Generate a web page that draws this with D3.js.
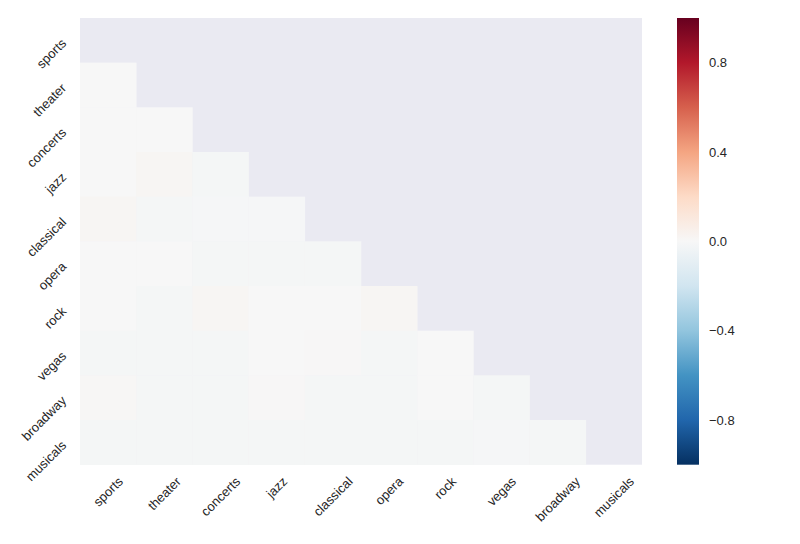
<!DOCTYPE html>
<html><head><meta charset="utf-8">
<script src="https://cdn.jsdelivr.net/npm/d3@7"></script>
<style>
body{margin:0;background:#fff}
text{font-family:"Liberation Sans",Arial,sans-serif;fill:#262626}
</style>
</head><body>
<svg id="chart" width="800" height="544"></svg>
<script>
// ---- data ----
const categories = ["sports","theater","concerts","jazz","classical","opera","rock","vegas","broadway","musicals"];
// lower triangle of the correlation matrix (row i holds columns 0..i-1); upper triangle + diagonal masked
const lowerTriangle = [
  [],
  [0.00],
  [0.00, 0.00],
  [0.00, 0.015, -0.015],
  [0.015, -0.015, -0.008, -0.008],
  [0.00, 0.00, -0.015, -0.015, -0.015],
  [0.00, -0.015, 0.015, 0.00, 0.00, 0.015],
  [-0.015, -0.015, -0.015, 0.00, 0.004, -0.015, 0.00],
  [0.008, -0.015, -0.015, 0.004, -0.015, -0.015, 0.00, -0.015],
  [-0.015, -0.015, -0.015, -0.015, -0.015, -0.015, -0.015, -0.008, -0.015]
];
const colorbarTicks = [-0.8, -0.4, 0.0, 0.4, 0.8];
const rdbuColors = ["#053061","#2166ac","#4393c3","#92c5de","#d1e5f0","#f7f7f7","#fddbc7","#f4a582","#d6604d","#b2182b","#67001f"];
const vmin = -1, vmax = 1;

// ---- layout ----
const svg = d3.select("#chart");
const plot = {x0: 80, x1: 642, y0: 18, y1: 464.7};
const cbar = {x0: 677, x1: 699};

const x = d3.scaleBand().domain(categories).range([plot.x0, plot.x1]).padding(0);
const y = d3.scaleBand().domain(categories).range([plot.y0, plot.y1]).padding(0);
const color = d3.scaleLinear()
  .domain(rdbuColors.map((c, i) => vmin + i * (vmax - vmin) / (rdbuColors.length - 1)))
  .range(rdbuColors)
  .interpolate(d3.interpolateRgb)
  .clamp(true);

// masked background
svg.append("rect")
  .attr("x", plot.x0).attr("y", plot.y0)
  .attr("width", plot.x1 - plot.x0).attr("height", plot.y1 - plot.y0)
  .attr("fill", "#eaeaf2");

const cells = [];
lowerTriangle.forEach((row, i) => row.forEach((v, j) => cells.push({r: categories[i], c: categories[j], v})));

svg.append("g").selectAll("rect").data(cells).join("rect")
  .attr("x", d => x(d.c)).attr("y", d => y(d.r))
  .attr("width", x.bandwidth() + 0.3).attr("height", y.bandwidth() + 0.3)
  .attr("fill", d => color(d.v));

// ---- tick labels ----
const fs = 13;
const k = Math.SQRT1_2;
function rotLabel(g, txt) {
  const t = g.append("text").text(txt)
    .attr("font-size", fs)
    .attr("text-anchor", "middle")
    .attr("dominant-baseline", "central");
  const w = t.node().getComputedTextLength();
  const h = fs * 0.9;
  return {t, half: (w + h) * k / 2};
}

const xg = svg.append("g");
categories.forEach(c => {
  const g = xg.append("g");
  const {t, half} = rotLabel(g, c);
  const cx = x(c) + x.bandwidth() / 2;
  const cy = 475 + half;
  t.attr("transform", `translate(${cx},${cy}) rotate(-45)`);
});

const yg = svg.append("g");
categories.forEach(c => {
  const g = yg.append("g");
  const {t, half} = rotLabel(g, c);
  const cx = 68 - half;
  const cy = y(c) + y.bandwidth() / 2 - 3.5 + half;
  t.attr("transform", `translate(${cx},${cy}) rotate(-45)`);
});

// ---- colorbar ----
const cy = d3.scaleLinear().domain([vmin, vmax]).range([plot.y1, plot.y0]);
const defs = svg.append("defs");
const grad = defs.append("linearGradient").attr("id", "cbgrad")
  .attr("x1", 0).attr("y1", 1).attr("x2", 0).attr("y2", 0);
rdbuColors.forEach((c, i) => grad.append("stop")
  .attr("offset", i / (rdbuColors.length - 1)).attr("stop-color", c));
svg.append("rect")
  .attr("x", cbar.x0).attr("y", plot.y0)
  .attr("width", cbar.x1 - cbar.x0).attr("height", plot.y1 - plot.y0)
  .attr("fill", "url(#cbgrad)");

const axis = d3.axisRight(cy).tickValues(colorbarTicks).tickSize(0).tickPadding(10)
  .tickFormat(d => d3.format(".1f")(d).replace("-", "\u2212"));
const ag = svg.append("g").attr("transform", `translate(${cbar.x1},0)`).call(axis);
ag.select(".domain").remove();
ag.selectAll("text").attr("font-size", fs).attr("fill", "#262626")
  .style("font-family", '"Liberation Sans",Arial,sans-serif');
</script>
</body></html>
